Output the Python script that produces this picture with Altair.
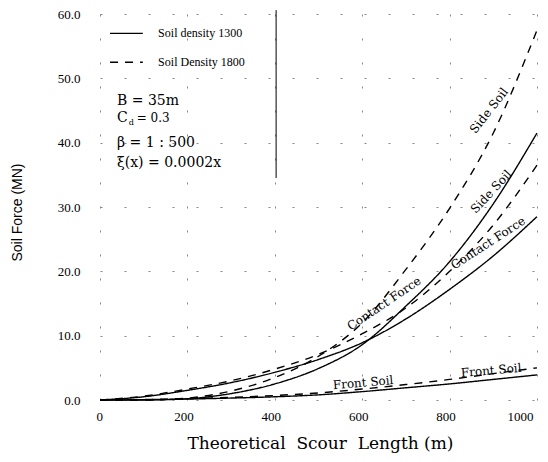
import altair as alt
import pandas as pd

# ---- data ----
x_vals = [0, 100, 200, 300, 400, 500, 600, 700, 800, 900, 1000]
contact_1300 = [0, 0.5, 1.5, 2.7, 4.3, 6.3, 8.9, 12.6, 17.2, 22.4, 28.5]
side_1300 = [0, 0, 0.2, 1.0, 2.5, 4.9, 8.6, 14.6, 21.5, 30.5, 41.5]
front_1300 = [0, 0.05, 0.15, 0.3, 0.5, 0.8, 1.3, 1.9, 2.5, 3.2, 3.9]
contact_1800 = [0, 0.6, 1.7, 3.0, 4.8, 7.1, 10.3, 14.3, 20.0, 27.2, 36.5]
side_1800 = [0, 0, 0.3, 1.4, 3.5, 6.8, 12.0, 20.3, 29.8, 41.5, 57.5]
front_1800 = [0, 0.07, 0.2, 0.4, 0.7, 1.1, 1.7, 2.4, 3.2, 4.1, 5.0]

x_ticks = [0, 200, 400, 600, 800, 1000]
y_grid = [0, 5, 10, 15, 20, 25, 30, 35, 40, 45, 50, 55, 60]

curve_label_text = ["Side Soil", "Side Soil", "Contact Force", "Contact Force", "Front Soil", "Front Soil"]
curve_label_x = [890, 895, 888, 650, 602, 895]
curve_label_y = [45.0, 32.4, 24.4, 15.0, 2.7, 4.6]
curve_label_angle = [308, 313, 327, 326, 355, 355]

legend_text = ["Soil density 1300", "Soil Density 1800"]
legend_density = ["1300", "1800"]
legend_y = [57.0, 52.5]

note_text = ["B = 35m", "C", "d", "= 0.3", "\u03b2 = 1 : 500", "\u03be(x) = 0.0002x"]
note_x = [39, 39, 66, 84, 39, 39]
note_y = [46.5, 43.8, 43.0, 43.8, 40.0, 36.8]
note_size = [14, 14, 8, 12, 14, 14]

x_title = "Theoretical\u00a0\u00a0Scour\u00a0\u00a0Length (m)"

series = [
    ("Contact Force", "1300", contact_1300),
    ("Side Soil", "1300", side_1300),
    ("Front Soil", "1300", front_1300),
    ("Contact Force", "1800", contact_1800),
    ("Side Soil", "1800", side_1800),
    ("Front Soil", "1800", front_1800),
]
rows = []
for name, dens, vals in series:
    for xv, yv in zip(x_vals, vals):
        rows.append({"x": xv, "y": yv, "series": name + " " + dens, "density": dens})
df = pd.DataFrame(rows)

xs = alt.Scale(domain=[0, 1000], nice=False)
ys = alt.Scale(domain=[0, 60], nice=False)
dash_scale = alt.Scale(domain=["1300", "1800"], range=[[1, 0], [8, 7]])

lines = alt.Chart(df).mark_line(color="black", strokeWidth=1.4, interpolate="monotone").encode(
    x=alt.X("x:Q", scale=xs, axis=alt.Axis(
        values=x_ticks, format="d", title=x_title,
        labelFont="Liberation Serif", labelFontSize=13, labelPadding=10, labelColor="black",
        labelOffset=-4,
        titleFont="DejaVu Serif", titleFontSize=17, titleFontWeight="normal",
        titleX=220, titleY=35, titleBaseline="top", titleColor="black",
        grid=True, gridDash=[2, 22], gridColor="#888", domain=False, ticks=False)),
    y=alt.Y("y:Q", scale=ys, axis=alt.Axis(
        values=y_grid, labelExpr="datum.value % 10 == 0 ? format(datum.value, '.1f') : ''",
        title="Soil Force (MN)", labelFont="Liberation Serif", labelFontSize=13,
        labelPadding=20, labelColor="black",
        titleFont="Liberation Sans", titleFontSize=14, titleFontWeight="normal",
        titleX=-83, titleY=198, titleAngle=270, titleBaseline="middle", titleAlign="center",
        titleColor="black",
        grid=True, gridDash=[2, 22], gridColor="#888", domain=False, ticks=False)),
    detail="series:N",
    strokeDash=alt.StrokeDash("density:N", scale=dash_scale, legend=None),
)

lab_df = pd.DataFrame({"x": curve_label_x, "y": curve_label_y, "text": curve_label_text,
                       "angle": curve_label_angle})
labels = alt.Chart(lab_df).mark_text(font="DejaVu Serif", fontSize=12, color="black",
                                     baseline="middle", align="center").encode(
    x="x:Q", y="y:Q", text="text:N", angle=alt.Angle("angle:Q", scale=None))

leg_df = pd.DataFrame({"x": [23] * 2, "x2": [98] * 2, "y": legend_y, "density": legend_density})
leg_lines = alt.Chart(leg_df).mark_rule(color="black", strokeWidth=1.3).encode(
    x="x:Q", x2="x2:Q", y="y:Q",
    strokeDash=alt.StrokeDash("density:N", scale=alt.Scale(domain=["1300", "1800"],
                                                           range=[[1, 0], [10, 9]]), legend=None))
legt_df = pd.DataFrame({"x": [133] * 2, "y": legend_y, "text": legend_text})
leg_text = alt.Chart(legt_df).mark_text(font="Liberation Serif", fontSize=12, color="black",
                                        align="left", baseline="middle").encode(
    x="x:Q", y="y:Q", text="text:N")

note_df = pd.DataFrame({"x": note_x, "y": note_y, "text": note_text, "size": note_size})
notes = alt.Chart(note_df).mark_text(font="DejaVu Serif", color="black", align="left",
                                     baseline="middle").encode(
    x="x:Q", y="y:Q", text="text:N", size=alt.Size("size:Q", scale=None))

vline_df = pd.DataFrame({"x": [403], "y": [34.5], "y2": [60.6]})
vline = alt.Chart(vline_df).mark_rule(color="black", strokeWidth=1).encode(
    x="x:Q", y="y:Q", y2="y2:Q")

chart = alt.layer(lines, labels, leg_lines, leg_text, notes, vline).properties(
    width=437, height=386,
    autosize=alt.AutoSizeParams(type="none"),
    padding={"left": 92, "top": 6, "right": 3, "bottom": 54},
    background="white",
).configure_view(stroke=None)

chart.save("out.html", embed_options={"renderer": "svg", "actions": False})
